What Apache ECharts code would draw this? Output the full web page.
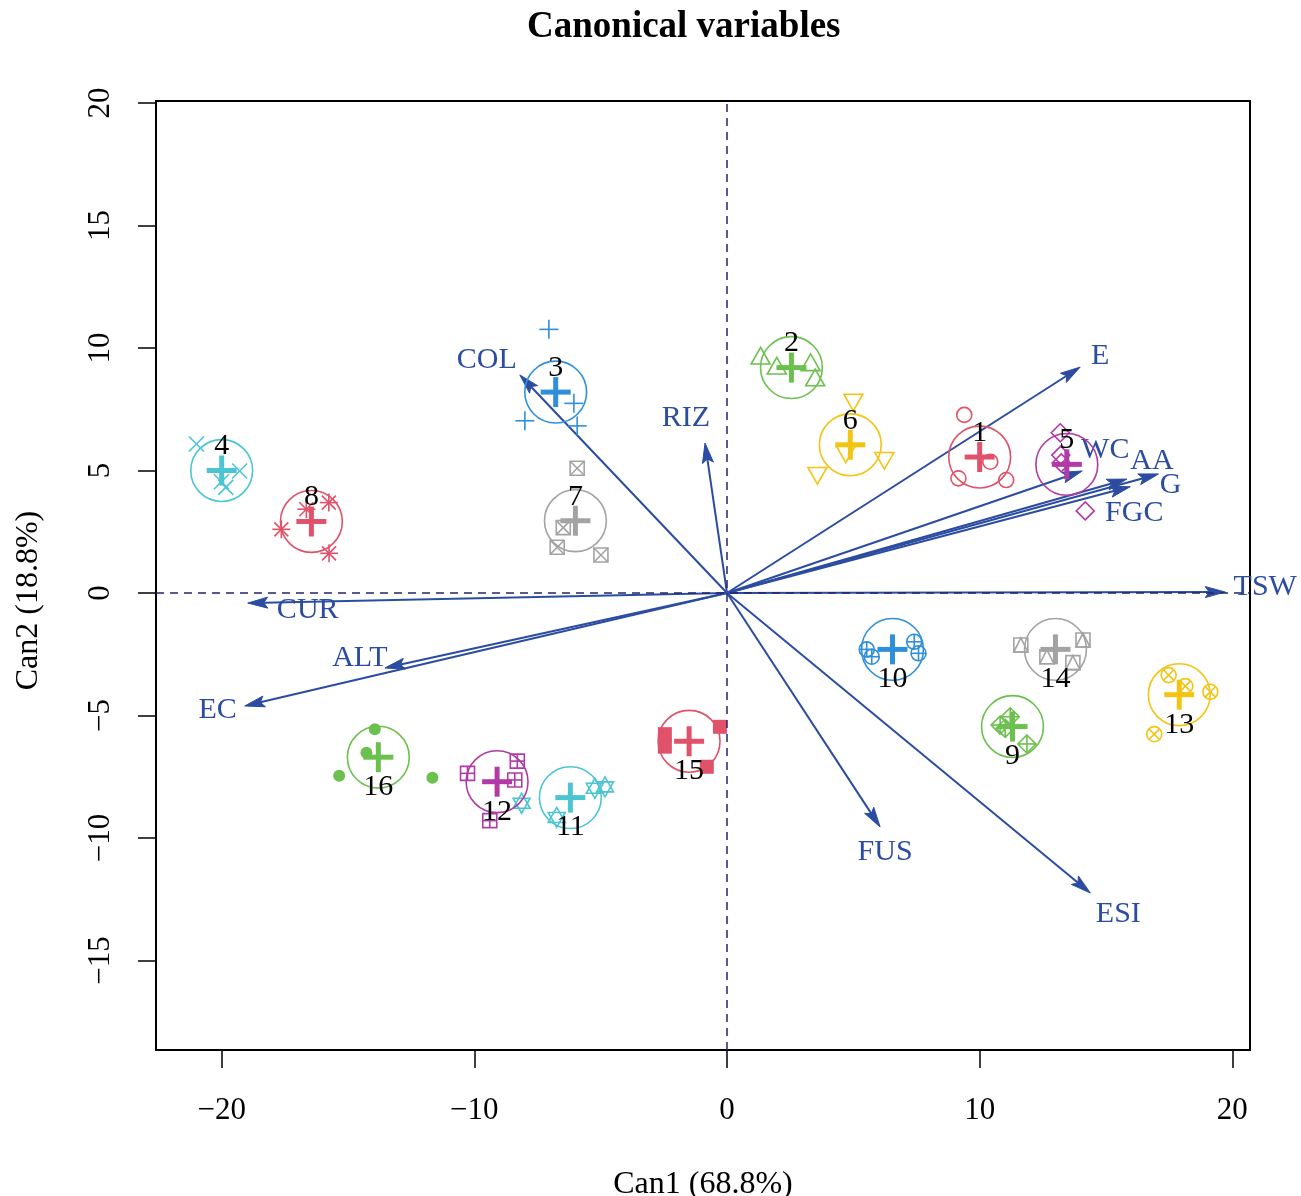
<!DOCTYPE html>
<html><head><meta charset="utf-8">
<script src="https://cdn.jsdelivr.net/npm/echarts@6/dist/echarts.min.js"></script>
<style>html,body{margin:0;padding:0;background:#fff}#c{width:1301px;height:1196px}</style>
</head><body><div id="c"></div>
<script>
// ---------------- data ----------------
const groupNames = ['1','2','3','4','5','6','7','8','9','10','11','12','13','14','15','16'];
const meanX = [10.0, 2.55, -6.78, -20.0, 13.45, 4.88, -6.0, -16.45, 11.3, 6.55, -6.2, -9.1, 17.9, 13.0, -1.5, -13.8];
const meanY = [5.55, 9.2, 8.2, 5.0, 5.25, 6.05, 2.95, 2.92, -5.45, -2.3, -8.35, -7.7, -4.15, -2.3, -6.05, -6.7];
const pointsX = [
  [9.39, 9.16, 10.42, 11.05],
  [1.33, 1.97, 3.31, 3.49],
  [-7.05, -6.06, -8.0, -5.93],
  [-21.0, -19.29, -20.01, -19.84],
  [13.19, 13.21, 13.23, 14.18],
  [5.0, 4.70, 6.23, 3.58],
  [-5.93, -6.48, -6.72, -4.99],
  [-17.64, -16.65, -15.76, -15.75],
  [10.81, 11.21, 11.01, 11.87],
  [5.53, 5.73, 7.41, 7.58],
  [-5.23, -4.83, -6.74, -8.13],
  [-10.27, -8.30, -8.40, -9.39],
  [17.48, 18.14, 19.13, 16.91],
  [11.63, 14.09, 12.66, 13.69],
  [-2.46, -2.46, -0.28, -0.80],
  [-13.94, -14.27, -15.35, -11.66]
];
const pointsY = [
  [7.27, 4.68, 5.36, 4.61],
  [9.58, 9.17, 9.31, 8.69],
  [10.76, 7.74, 7.03, 6.82],
  [6.08, 4.98, 4.54, 4.31],
  [6.54, 5.63, 5.31, 3.35],
  [7.88, 5.77, 5.50, 4.89],
  [5.09, 2.67, 1.87, 1.55],
  [2.60, 3.42, 3.69, 1.62],
  [-5.39, -5.05, -5.52, -6.16],
  [-2.30, -2.60, -1.99, -2.46],
  [-7.97, -7.91, -9.16, -8.58],
  [-7.36, -6.86, -7.63, -9.29],
  [-3.35, -3.80, -4.03, -5.76],
  [-2.12, -1.92, -2.60, -2.84],
  [-5.76, -6.27, -5.46, -7.09],
  [-5.56, -6.52, -7.46, -7.54]
];
const circleRadius = 1.224;   // data units (95% circle for n = 4)
const varNames = ['E', 'WC', 'AA', 'G', 'FGC', 'TSW', 'RIZ', 'COL', 'CUR', 'ALT', 'EC', 'FUS', 'ESI'];
const varX = [13.98, 14.06, 15.83, 17.08, 15.96, 19.72, -0.87, -8.2, -18.97, -13.54, -19.09, 6.06, 14.38];
const varY = [9.22, 4.98, 4.65, 4.86, 4.34, 0.04, 6.12, 8.9, -0.41, -3.06, -4.61, -9.55, -12.24];
const xTicks = [-20, -10, 0, 10, 20];
const yTicks = [-15, -10, -5, 0, 5, 10, 15, 20];

// ---------------- styling ----------------
const FONT = '"Liberation Serif","Times New Roman",serif';
const palette = ['#E0526A', '#6CC04E', '#2F8FDB', '#4CC5D2', '#B23AA6', '#F3C413', '#A3A3A3'];
const vecColor = '#2B4CA0';
const labelOffset = {
  E: [20, -11], WC: [23, -21], AA: [25, -18], G: [12, 11], FGC: [4, 26], TSW: [40, -5],
  RIZ: [-19, -25], COL: [-33, -15], CUR: [60, 7], ALT: [-25, -10], EC: [-27, 4],
  FUS: [5, 25], ESI: [28, 21]
};
const colorOf = g => palette[g % palette.length];
const fmt = v => (v < 0 ? '\u2212' + Math.abs(v) : String(v));

function markerShapes(pch, cx, cy, color) {
  const st = { stroke: color, fill: 'none', lineWidth: 1.6 };
  const L = (x1, y1, x2, y2) => ({ type: 'line', shape: { x1, y1, x2, y2 }, style: st });
  const C = r => ({ type: 'circle', shape: { cx, cy, r }, style: st });
  const P = pts => ({ type: 'polygon', shape: { points: pts }, style: st });
  const sq = h => P([[cx - h, cy - h], [cx + h, cy - h], [cx + h, cy + h], [cx - h, cy + h]]);
  const plus = h => [L(cx - h, cy, cx + h, cy), L(cx, cy - h, cx, cy + h)];
  const cross = h => [L(cx - h, cy - h, cx + h, cy + h), L(cx - h, cy + h, cx + h, cy - h)];
  const triUp = (h) => P([[cx, cy - h * 1.15], [cx + h, cy + h * 0.6], [cx - h, cy + h * 0.6]]);
  const triDn = (h) => P([[cx, cy + h * 1.15], [cx + h, cy - h * 0.6], [cx - h, cy - h * 0.6]]);
  const diam = h => P([[cx, cy - h], [cx + h, cy], [cx, cy + h], [cx - h, cy]]);
  switch (pch) {
    case 1: return [C(7.5)];
    case 2: return [triUp(9.5)];
    case 3: return plus(9.5);
    case 4: return cross(7.5);
    case 5: return [diam(9)];
    case 6: return [triDn(9.5)];
    case 7: return [sq(7)].concat(cross(7));
    case 8: return plus(9).concat(cross(7));
    case 9: return [diam(9)].concat(plus(9));
    case 10: return [C(7.5)].concat(plus(7.5));
    case 11: return [P([[cx, cy - 10], [cx + 8.5, cy + 5], [cx - 8.5, cy + 5]]), P([[cx, cy + 10], [cx + 8.5, cy - 5], [cx - 8.5, cy - 5]])];
    case 12: return [sq(7)].concat(plus(7));
    case 13: return [C(7.5)].concat(cross(5.3));
    case 14: return [sq(7), P([[cx, cy - 7], [cx + 7, cy + 7], [cx - 7, cy + 7]])];
    case 15: return [{ type: 'rect', shape: { x: cx - 7, y: cy - 7, width: 14, height: 14 }, style: { fill: color } }];
    case 16: return [{ type: 'circle', shape: { cx, cy, r: 6 }, style: { fill: color } }];
  }
  return [];
}

// build series data from the arrays
const pointData = [];
pointsX.forEach((xs, g) => xs.forEach((x, i) => pointData.push([x, pointsY[g][i], g])));
const meanData = meanX.map((x, g) => [x, meanY[g], g]);
const vecData = varX.map((x, i) => [x, varY[i], i]);

const chart = echarts.init(document.getElementById('c'), null, { renderer: 'canvas' });
chart.setOption({
  backgroundColor: '#fff',
  animation: false,
  title: {
    text: 'Canonical variables', left: 522, top: 4,
    textStyle: { fontFamily: FONT, fontWeight: 'bold', fontSize: 37, color: '#000' }
  },
  grid: { left: 156, right: 51, top: 101, bottom: 146, show: true, borderColor: '#000', borderWidth: 2, backgroundColor: 'transparent', outerBoundsMode: 'none', containLabel: false },
  xAxis: {
    type: 'value', min: -22.6, max: 20.7,
    name: 'Can1 (68.8%)', nameLocation: 'middle', nameGap: 119,
    nameTextStyle: { fontFamily: FONT, fontSize: 32, color: '#000' },
    axisLine: { show: false, onZero: false },
    axisTick: { show: true, inside: false, length: 18, customValues: xTicks, lineStyle: { color: '#000', width: 1.5 } },
    axisLabel: { customValues: xTicks, formatter: fmt, margin: 45, fontFamily: FONT, fontSize: 31, color: '#000' },
    splitLine: { show: false }
  },
  yAxis: {
    type: 'value', min: -18.65, max: 20.08,
    name: 'Can2 (18.8%)', nameLocation: 'middle', nameGap: 111,
    nameTextStyle: { fontFamily: FONT, fontSize: 32, color: '#000', padding: [0, 50, 0, 0] },
    axisLine: { show: false, onZero: false },
    axisTick: { show: true, inside: false, length: 18, customValues: yTicks, lineStyle: { color: '#000', width: 1.5 } },
    axisLabel: { customValues: yTicks, formatter: fmt, rotate: 90, margin: 40, fontFamily: FONT, fontSize: 31, color: '#000' },
    splitLine: { show: false }
  },
  series: [
    {
      type: 'custom', name: 'vectors', coordinateSystem: 'cartesian2d',
      encode: { x: 0, y: 1 }, data: vecData, clip: false, silent: true, z: 2,
      markLine: {
        silent: true, symbol: 'none', label: { show: false },
        lineStyle: { type: [8, 6], color: '#25256a', width: 1.5 },
        data: [{ xAxis: 0 }, { yAxis: 0 }]
      },
      renderItem: function (params, api) {
        const o = api.coord([0, 0]);
        const t = api.coord([api.value(0), api.value(1)]);
        const name = varNames[api.value(2)];
        const dx = t[0] - o[0], dy = t[1] - o[1];
        const len = Math.sqrt(dx * dx + dy * dy);
        const ux = dx / len, uy = dy / len;
        const hl = 20, hw = 5.5;
        const bx = t[0] - ux * hl, by = t[1] - uy * hl;
        const off = labelOffset[name] || [0, 0];
        return {
          type: 'group', children: [
            { type: 'line', shape: { x1: o[0], y1: o[1], x2: bx + ux * 4, y2: by + uy * 4 }, style: { stroke: vecColor, lineWidth: 2 } },
            { type: 'polygon', shape: { points: [[t[0], t[1]], [bx - uy * hw, by + ux * hw], [bx + ux * 4, by + uy * 4], [bx + uy * hw, by - ux * hw]] }, style: { fill: vecColor, stroke: vecColor, lineWidth: 1 } },
            { type: 'text', x: t[0] + off[0], y: t[1] + off[1], style: { text: name, font: '30px ' + FONT, fill: vecColor, align: 'center', verticalAlign: 'middle', textAlign: 'center', textVerticalAlign: 'middle' } }
          ]
        };
      }
    },
    {
      type: 'custom', name: 'points', coordinateSystem: 'cartesian2d',
      encode: { x: 0, y: 1 }, data: pointData, clip: false, silent: true, z: 3,
      renderItem: function (params, api) {
        const p = api.coord([api.value(0), api.value(1)]);
        const g = api.value(2);
        return { type: 'group', children: markerShapes(g + 1, p[0], p[1], colorOf(g)) };
      }
    },
    {
      type: 'custom', name: 'means', coordinateSystem: 'cartesian2d',
      encode: { x: 0, y: 1 }, data: meanData, clip: false, silent: true, z: 4,
      renderItem: function (params, api) {
        const y = api.value(1);
        const p = api.coord([api.value(0), y]);
        const g = api.value(2);
        const col = colorOf(g);
        const r = api.size([circleRadius, 0])[0];
        const h = 15;
        return {
          type: 'group', children: [
            { type: 'circle', shape: { cx: p[0], cy: p[1], r: r }, style: { stroke: col, fill: 'none', lineWidth: 1.6 } },
            { type: 'line', shape: { x1: p[0] - h, y1: p[1], x2: p[0] + h, y2: p[1] }, style: { stroke: col, lineWidth: 5 } },
            { type: 'line', shape: { x1: p[0], y1: p[1] - h, x2: p[0], y2: p[1] + h }, style: { stroke: col, lineWidth: 5 } },
            { type: 'text', x: p[0], y: p[1] + (y > 0 ? -24 : 30), style: { text: groupNames[g], font: '30px ' + FONT, fill: '#000', align: 'center', verticalAlign: 'middle', textAlign: 'center', textVerticalAlign: 'middle' } }
          ]
        };
      }
    }
  ]
});
</script>
</body></html>
